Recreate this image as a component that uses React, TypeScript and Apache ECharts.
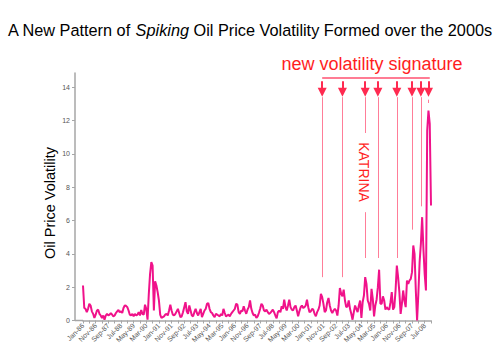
import React, { useEffect, useRef } from "react";
import * as echarts from "echarts";

const monthNames = ["Jan", "Feb", "Mar", "Apr", "May", "Jun", "Jul", "Aug", "Sep", "Oct", "Nov", "Dec"];
const firstYear = 1986;
const lastYear = 2008;

// monthly oil price volatility, one row per year (Jan..Dec)
const volatility: number[] = [
  2.1, 0.75, 0.7, 0.5, 0.7, 1.0, 0.9, 0.55, 0.4, 0.15, 0.35, 0.6, // 1986
  0.65, 0.4, 0.3, 0.15, 0.3, 0.05, 0.3, 0.4, 0.3, 0.35, 0.45, 0.35, // 1987
  0.25, 0.3, 0.45, 0.55, 0.63, 0.5, 0.55, 0.45, 0.75, 0.9, 0.88, 0.8, // 1988
  0.6, 0.35, 0.3, 0.4, 0.25, 0.4, 0.3, 0.35, 0.5, 0.3, 0.63, 0.4, // 1989
  0.35, 0.95, 0.7, 0.05, 1.6, 2.8, 3.5, 3.3, 0.6, 2.35, 2.1, 1.7, // 1990
  1.2, 0.35, 0.15, 0.2, 0.25, 0.35, 0.4, 0.3, 0.6, 0.95, 0.6, 0.35, // 1991
  0.3, 0.4, 0.55, 0.7, 0.45, 0.2, 0.25, 0.5, 0.8, 1.1, 0.55, 0.4, // 1992
  0.9, 0.6, 0.3, 0.25, 0.5, 0.7, 0.45, 0.3, 0.5, 0.7, 0.2, 0.4, // 1993
  0.6, 0.7, 1.0, 1.05, 0.7, 0.5, 0.45, 0.3, 0.2, 0.4, 0.35, 0.3, // 1994
  0.25, 0.4, 0.3, 0.7, 0.45, 0.25, 0.3, 0.35, 0.25, 0.4, 0.5, 0.6, // 1995
  0.7, 1.0, 0.95, 0.5, 0.4, 0.6, 0.55, 0.85, 0.6, 0.4, 0.65, 0.8, // 1996
  1.2, 0.7, 0.45, 0.3, 0.35, 0.15, 0.25, 0.45, 0.7, 1.0, 0.9, 0.6, // 1997
  0.55, 0.65, 0.5, 0.4, 0.45, 0.55, 0.65, 0.5, 0.3, 0.13, 0.5, 0.6, // 1998
  0.5, 0.85, 0.7, 1.25, 0.8, 0.6, 0.9, 1.25, 0.8, 0.65, 0.6, 0.8, // 1999
  0.9, 0.6, 0.25, 0.55, 0.8, 0.9, 0.75, 0.8, 0.9, 1.25, 0.8, 0.5, // 2000
  0.55, 0.7, 0.65, 0.4, 0.25, 0.5, 0.65, 0.9, 1.6, 1.4, 1.0, 0.5, // 2001
  0.6, 1.1, 1.35, 0.9, 0.6, 0.45, 0.6, 0.7, 0.6, 0.3, 0.9, 1.95, // 2002
  1.6, 1.45, 1.85, 1.2, 0.8, 0.85, 1.2, 0.7, 0.4, 0.05, 0.5, 0.9, // 2003
  0.7, 0.5, 0.9, 1.2, 0.15, 1.1, 1.5, 2.6, 2.2, 1.2, 1.0, 0.6, // 2004
  1.9, 1.3, 0.25, 0.9, 1.25, 2.0, 3.05, 1.0, 1.0, 1.45, 1.2, 0.65, // 2005
  0.8, 0.7, 0.65, 1.1, 1.7, 0.65, 0.8, 1.8, 3.3, 2.6, 1.7, 0.4, // 2006
  1.0, 1.8, 1.2, 0.8, 2.4, 2.2, 2.4, 2.5, 2.9, 4.5, 4.0, 1.8, // 2007
  0.0, 1.6, 3.5, 4.6, 6.2, 4.3, 2.8, 1.8, 11.4, 12.6, 11.8, 6.9, // 2008
];

const yTicks = [0, 2, 4, 6, 8, 10, 12, 14];

// "new volatility signature" arrows: month pointed at, and value where the drop line ends
const arrowMonths = ["Oct-01", "Feb-03", "Aug-04", "Jun-05", "Sep-06", "Sep-07", "Apr-08", "Oct-08"];
const arrowLineEnds = [2.6, 2.6, 3.75, 3.75, 3.75, 5.45, 6.85, 13.05];
const katrinaMonth = "Aug-04";
const katrinaGap = [11.25, 6.5];
const bracketFrom = "Oct-01";
const bracketTo = "Nov-08";

const categories: string[] = [];
for (let y = firstYear; y <= lastYear; y++) {
  for (const m of monthNames) categories.push(`${m}-${String(y).slice(2)}`);
}

const FONT = "'Liberation Sans', Arial, sans-serif";
const RED = "#ff1e1e";
const ARROW = "#ff2a50";
const PINK_LINE = "#ff7d98";
const AXIS = "#a6a6a6";

export default function App() {
  const ref = useRef<HTMLDivElement>(null);
  useEffect(() => {
    if (!ref.current) return;
    document.body.style.margin = "0";
    const chart = echarts.init(ref.current, null, { renderer: "svg" });

    const markData: any[] = [];
    arrowMonths.forEach((m, k) => {
      markData.push([
        { coord: [m, 14.35], symbol: "none", lineStyle: { color: ARROW, width: 2, type: "solid" } },
        { coord: [m, 13.7], symbol: "triangle", symbolSize: [9, 9] },
      ]);
      if (m === katrinaMonth) {
        markData.push([
          { coord: [m, 13.4], symbol: "none", lineStyle: { color: PINK_LINE, width: 1, type: "solid" } },
          { coord: [m, katrinaGap[0]], symbol: "none" },
        ]);
        markData.push([
          { coord: [m, katrinaGap[1]], symbol: "none", lineStyle: { color: PINK_LINE, width: 1, type: "solid" } },
          { coord: [m, arrowLineEnds[k]], symbol: "none" },
        ]);
      } else {
        markData.push([
          { coord: [m, k === arrowMonths.length - 1 ? 13.25 : 13.4], symbol: "none", lineStyle: { color: PINK_LINE, width: 1, type: "solid" } },
          { coord: [m, arrowLineEnds[k]], symbol: "none" },
        ]);
      }
    });
    markData.push([
      { coord: [bracketFrom, 14.59], symbol: "none", lineStyle: { color: "#ff5070", width: 1.5, type: "solid" } },
      { coord: [bracketTo, 14.59], symbol: "none" },
    ]);

    chart.setOption({
      animation: false,
      title: {
        text: "{a|A New Pattern of }{b|Spiking}{a| Oil Price Volatility Formed over the 2000s}",
        left: 8,
        top: 22,
        padding: 0,
        textStyle: {
          fontWeight: "normal",
          rich: {
            a: { fontFamily: FONT, fontSize: 16.3, color: "#000", fontWeight: "normal" },
            b: { fontFamily: FONT, fontSize: 16.3, color: "#000", fontWeight: "normal", fontStyle: "italic" },
          },
        },
      },
      grid: { left: 83, right: 69, top: 73, bottom: 37.5, containLabel: false },
      xAxis: {
        type: "category",
        data: categories,
        boundaryGap: false,
        axisLine: { lineStyle: { color: AXIS, width: 1.5 } },
        axisTick: { interval: 4, length: 3, lineStyle: { color: AXIS } },
        axisLabel: {
          interval: 9,
          rotate: 45,
          fontSize: 7,
          color: "#555",
          fontFamily: FONT,
          margin: 4,
        },
        splitLine: { show: false },
      },
      yAxis: {
        type: "value",
        min: 0,
        max: 14.85,
        offset: 8,
        axisLine: { show: true, lineStyle: { color: AXIS, width: 1.5 } },
        axisTick: { show: true, length: 3, customValues: yTicks, lineStyle: { color: AXIS } },
        axisLabel: { customValues: yTicks, fontSize: 7, color: "#555", fontFamily: FONT, margin: 5 },
        splitLine: { show: false },
      },
      graphic: [
        {
          type: "line",
          shape: { x1: 75, y1: 320.5, x2: 83, y2: 320.5 },
          style: { stroke: AXIS, lineWidth: 1.5 },
        },
        {
          type: "text",
          x: 50,
          y: 203,
          rotation: Math.PI / 2,
          style: {
            text: "Oil Price Volatility",
            fontFamily: FONT,
            fontSize: 14.5,
            fill: "#000",
            align: "center",
            verticalAlign: "middle",
          },
        },
        {
          type: "text",
          x: 372,
          y: 64,
          style: {
            text: "new volatility signature",
            fontFamily: FONT,
            fontSize: 18,
            fill: RED,
            align: "center",
            verticalAlign: "middle",
          },
        },
        {
          type: "text",
          x: 364,
          y: 172,
          rotation: -Math.PI / 2,
          style: {
            text: "KATRINA",
            fontFamily: FONT,
            fontSize: 14,
            fill: RED,
            align: "center",
            verticalAlign: "middle",
          },
        },
      ],
      series: [
        {
          type: "line",
          data: volatility,
          showSymbol: false,
          symbol: "none",
          lineStyle: { color: "#f0128a", width: 2 },
          itemStyle: { color: "#f0128a" },
          z: 3,
          markLine: {
            silent: true,
            animation: false,
            symbol: ["none", "none"],
            label: { show: false },
            emphasis: { disabled: true },
            data: markData,
          },
        },
      ],
    });
    return () => chart.dispose();
  }, []);
  return <div ref={ref} style={{ width: 500, height: 358 }} />;
}
